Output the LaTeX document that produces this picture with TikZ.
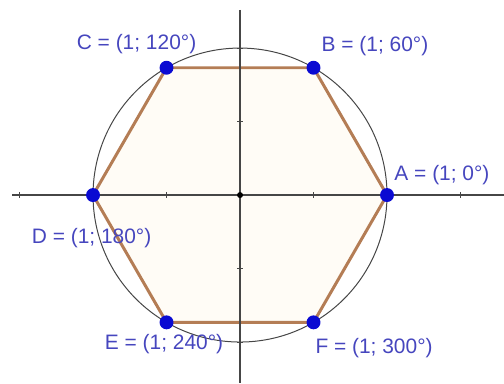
\documentclass[tikz,border=0pt]{standalone}
\usepackage{fontspec}
\setmainfont{Liberation Sans}
\definecolor{ptblue}{RGB}{10,10,210}
\definecolor{lblblue}{RGB}{70,70,190}
\definecolor{hexbrown}{RGB}{180,125,85}
\definecolor{hexfill}{RGB}{255,252,246}
\definecolor{axisgray}{RGB}{70,70,70}
\tikzset{
  axis/.style={axisgray, line width=0.7pt},
  hexa/.style={hexbrown, line width=1.5pt, line join=round, fill=hexfill},
  pt/.style={circle, fill=ptblue, inner sep=0pt, minimum size=7pt},
  lbl/.style={text=lblblue, font=\fontsize{10.5}{12}\selectfont, inner sep=0pt}
}
\begin{document}
\begin{tikzpicture}[scale=2.593]
        \useasboundingbox (-1.633, -1.279) rectangle (1.796, 1.327);

        % Vertices of the hexagon, angles 0, 60, ..., 300
        \foreach \p/\a in {A/0, B/60, C/120, D/180, E/240, F/300} {
          \coordinate (\p) at (\a:1);
        }

        % Hexagon
        \draw [hexa] (A) -- (B) -- (C) -- (D) -- (E) -- (F) -- cycle;

        % Axes
        \draw [axis] (-1.551, 0) -- (1.796, 0);
        \draw [axis] (0, 1.259) -- (0, -1.279);

        % Ticks
        \foreach \t in {-1.5, -1, -0.5, 0.5, 1, 1.5}
          \draw [axis, line width=0.4pt] (\t, 0.02) -- (\t, -0.02);
        \foreach \t in {-1, -0.5, 0.5, 1}
          \draw [axis, line width=0.4pt] (0.02, \t) -- (-0.02, \t);

        % Unit circle
        \draw [axisgray, line width=0.5pt] (0, 0) circle (1);

        % Origin
        \node [circle, fill=black, inner sep=0pt, minimum size=3pt] (O) at (0, 0) {};

        % Points
        \foreach \p in {A, B, C, D, E, F}
          \node [pt] (p\p) at (\p) {};

        % Labels
        \node [lbl] (lA) at (1.374, 0.136) {A = (1; 0°)};
        \node [lbl] (lB) at (0.918, 1.015) {B = (1; 60°)};
        \node [lbl] (lC) at (-0.704, 1.027) {C = (1; 120°)};
        \node [lbl] (lD) at (-1.010, -0.296) {D = (1; 180°)};
        \node [lbl] (lE) at (-0.517, -1.012) {E = (1; 240°)};
        \node [lbl] (lF) at (0.912, -1.040) {F = (1; 300°)};

      \end{tikzpicture}
\end{document}
